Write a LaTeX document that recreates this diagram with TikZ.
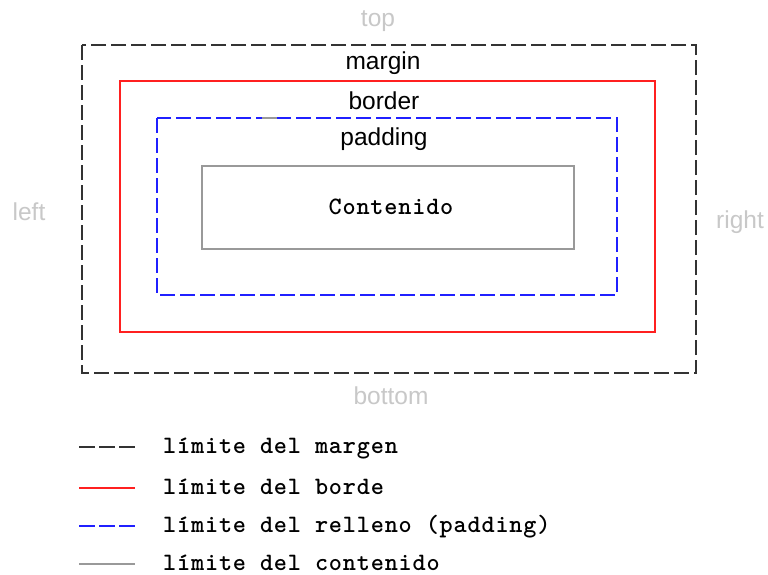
\documentclass[tikz,border=0pt]{standalone}
\usepackage{fontspec}
\setmainfont{Liberation Sans}
\newfontfamily\monof[LetterSpace=3.3]{lmmonolt10-bold.otf}
\definecolor{mgray}{HTML}{333333}
\definecolor{mred}{HTML}{FF2020}
\definecolor{mblue}{HTML}{2020FF}
\definecolor{cgray}{HTML}{999999}
\definecolor{lgray}{HTML}{C8C8C8}
\begin{document}
\begin{tikzpicture}[x=1pt,y=-1pt,
  marginline/.style={draw=mgray,line width=2pt,dash pattern=on 15pt off 5pt},
  borderline/.style={draw=mred,line width=1.6pt},
  paddingline/.style={draw=mblue,line width=2pt,dash pattern=on 15pt off 5pt},
  contentline/.style={draw=cgray,line width=1.6pt},
  boxlabel/.style={font=\fontsize{24.5}{28}\selectfont,text=black,inner sep=0pt},
  sidelabel/.style={font=\fontsize{24.5}{28}\selectfont,text=lgray,inner sep=0pt},
  legtext/.style={font=\monof\fontsize{25}{28}\selectfont,anchor=base west,inner sep=0pt},
]
\useasboundingbox[fill=white] (0,0) rectangle (768,574);
% boxes
\draw[marginline] (82,45) rectangle (696,373);
\draw[borderline] (120,81) rectangle (655,332);
\draw[paddingline] (157,118) rectangle (617,295);
\draw[cgray,line width=2pt] (262,118) -- (277,118);
\node[contentline,draw,minimum width=372pt,minimum height=83pt,anchor=north west,inner sep=0pt] (content) at (201,165) {};
\node[font=\monof\fontsize{25}{28}\selectfont,inner sep=0pt,anchor=base] (ctext) at (391,214) {Contenido};
% labels
\node[boxlabel] (lmargin) at (383,63) {margin};
\node[boxlabel] (lborder) at (384,101) {border};
\node[boxlabel] (lpadding) at (384,139) {padding};
\node[sidelabel] (ltop) at (378,21) {top};
\node[sidelabel] (lbottom) at (391,396) {bottom};
\node[sidelabel] (lleft) at (29,212) {left};
\node[sidelabel] (lright) at (740,222) {right};
% legend
\coordinate (a1) at (79,447); \coordinate (b1) at (135,447);
\coordinate (a2) at (79,488); \coordinate (b2) at (135,488);
\coordinate (a3) at (79,526); \coordinate (b3) at (135,526);
\coordinate (a4) at (79,564); \coordinate (b4) at (135,564);
\draw[draw=mgray,line width=2pt,dash pattern=on 16pt off 4pt] (a1) -- (b1);
\draw[borderline] (a2) -- (b2);
\draw[draw=mblue,line width=2pt,dash pattern=on 16pt off 4pt] (a3) -- (b3);
\draw[contentline] (a4) -- (b4);
\node[legtext] (t1) at (163,453) {límite del margen};
\node[legtext] (t2) at (163,494) {límite del borde};
\node[legtext] (t3) at (163,532) {límite del relleno (padding)};
\node[legtext] (t4) at (163,570) {límite del contenido};
\end{tikzpicture}
\end{document}
